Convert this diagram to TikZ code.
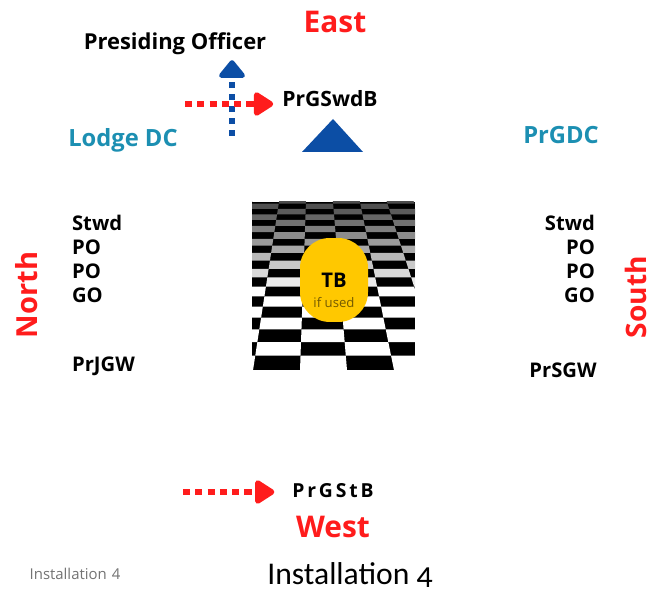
\documentclass[tikz,border=0pt]{standalone}
\usepackage{fontspec}
\setmainfont{Open Sans}
\newfontfamily\capfont[Numbers=OldStyle]{Carlito}
\usepackage{tikz}
\usetikzlibrary{arrows.meta,positioning}
\definecolor{dirred}{RGB}{255,28,28}
\definecolor{dcblue}{RGB}{28,143,178}
\definecolor{arrblue}{RGB}{12,78,165}
\definecolor{tbyellow}{RGB}{255,200,0}
\tikzset{
    office/.style={
           font=\bfseries\fontsize{11.5}{12}\selectfont,
           text height=8pt, text depth=2pt,
           inner sep=1pt,
           },
    compass/.style={
           font=\bfseries\fontsize{17}{19}\selectfont,
           text=dirred,
           inner sep=1pt,
           },
    dcname/.style={
           font=\bfseries\fontsize{13.5}{15}\selectfont,
           text=dcblue,
           inner sep=1pt,
           },
    redmove/.style={
           draw=dirred, line width=3.4pt,
           dash pattern=on 4pt off 3pt,
           -{Triangle[width=15pt,length=12.5pt,round]},
           },
    bluemove/.style={
           draw=arrblue, line width=3.2pt,
           dash pattern=on 3.4pt off 3.4pt,
           -{Triangle[width=17pt,length=11pt,round]},
           },
}
\begin{document}
\begin{tikzpicture}[x=0.02cm,y=-0.02cm]
 \useasboundingbox (0,0) rectangle (651,590);

 % the chequered floor, seen in perspective
 \begin{scope}
  \clip (252,202) rectangle (415,370);
  \fill[black] (252,202) rectangle (415,370);
  \foreach \n in {0,...,19}{
   \pgfmathsetmacro\ya{-24.8+10300/(26.08+\n)}
   \pgfmathsetmacro\yb{-24.8+10300/(27.08+\n)}
   \pgfmathsetmacro\fa{(\ya+24.8)/395}
   \pgfmathsetmacro\fb{(\yb+24.8)/395}
   \pgfmathsetmacro\lev{min(100,max(30,30+70*(\yb-202)/85))}
   \foreach \k in {-3,...,3}{
    \pgfmathtruncatemacro\odd{mod(\n+\k+10,2)}
    \ifnum\odd=0
     \fill[white!\lev!black] ({314+(-14+47*\k)*\fa},\ya) -- ({314+(33+47*\k)*\fa},\ya)
       -- ({314+(33+47*\k)*\fb},\yb) -- ({314+(-14+47*\k)*\fb},\yb) -- cycle;
    \fi
   }
  }
 \end{scope}

 % TB in the middle of the floor
 \node[fill=tbyellow, rounded corners=17pt,
  minimum width=1.36cm, minimum height=1.68cm] (tb) at (334,280) {};
 \node[font=\bfseries\fontsize{11.5}{12}\selectfont, inner sep=1pt] (tbtext) at (334,280) {TB};
 \node[font=\fontsize{7.5}{8}\selectfont, text=black!55!tbyellow,
  below=1pt of tbtext] (ifused) {if used};

 % East
 \node[compass] (east) at (335,22) {East};
 \node[office, font=\bfseries\fontsize{12.5}{13}\selectfont] (po) at (175,44) {Presiding Officer};
 \node[office, font=\bfseries\fontsize{12}{13}\selectfont] (swd) at (330,101) {PrGSwdB};
 \fill[arrblue] (302,152) -- (333,119) -- (363,152) -- cycle;
 \node[dcname] (lodgedc) at (123,140) {Lodge DC};
 \node[dcname] (prgdc) at (561,135) {PrGDC};

 % North
 \node[compass, rotate=90, font=\bfseries\fontsize{16.5}{18}\selectfont] (north) at (27,295) {North};
 \node[office, anchor=west] (nstwd) at (70,225) {Stwd};
 \node[office, below=0.48cm of nstwd.west, anchor=west] (npoa) {PO};
 \node[office, below=0.48cm of npoa.west, anchor=west] (npob) {PO};
 \node[office, below=0.48cm of npob.west, anchor=west] (ngo) {GO};
 \node[office, anchor=west] (njgw) at (70,366) {PrJGW};

 % South
 \node[compass, rotate=90, font=\bfseries\fontsize{16}{18}\selectfont] (south) at (636,297) {South};
 \node[office, anchor=east] (sstwd) at (597,225) {Stwd};
 \node[office, below=0.48cm of sstwd.east, anchor=east] (spoa) {PO};
 \node[office, below=0.48cm of spoa.east, anchor=east] (spob) {PO};
 \node[office, below=0.48cm of spob.east, anchor=east] (sgo) {GO};
 \node[office] (ssgw) at (563,372) {PrSGW};

 % West
 \node[office, font=\bfseries\fontsize{11}{12}\selectfont\addfontfeature{LetterSpace=15}] (stb) at (333,492) {PrGStB};
 \node[compass] (west) at (333,527) {West};

 % captions
 \node[font=\fontsize{8.5}{10}\selectfont, text=black!55] (slide) at (75,574) {Installation\,\,4};
 \node[font=\capfont\fontsize{18}{20}\selectfont] (caption) at (350,575) {Installation 4};

 % the moves
 \coordinate (na) at (232,136);
 \coordinate (ea) at (185,104);
 \coordinate (wa) at (183,492);
 \draw[bluemove, shorten >=3pt] (na) -- (na |- po.south);
 \draw[redmove, shorten >=4pt] (ea) -- (ea -| swd.west);
 \draw[redmove, shorten >=9pt] (wa) -- (wa -| stb.west);
\end{tikzpicture}
\end{document}
